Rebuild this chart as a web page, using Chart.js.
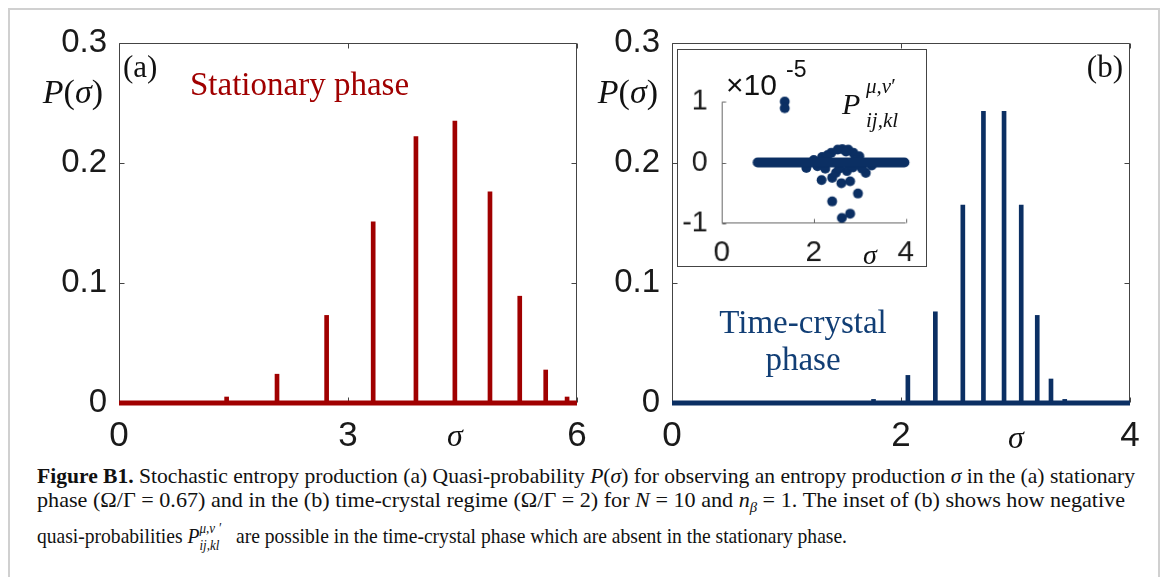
<!DOCTYPE html>
<html><head><meta charset="utf-8">
<script src="https://cdn.jsdelivr.net/npm/chart.js@4"></script>
<style>
html,body{margin:0;padding:0;background:#fff;width:1168px;height:577px;overflow:hidden;position:relative;font-family:"Liberation Sans",Arial,sans-serif;}
canvas{position:absolute;display:block;}
.t{position:absolute;white-space:nowrap;line-height:1;}
.serif{font-family:"Liberation Serif","Times New Roman",serif;}
#outer{position:absolute;left:8px;top:8px;width:1148px;height:620px;border:2px solid #d0d0d0;}
.cap{position:absolute;left:37px;white-space:nowrap;font-family:"Liberation Serif","Times New Roman",serif;font-size:21px;line-height:1;color:#111;transform-origin:0 50%;}
.stk{display:inline-block;position:relative;width:34px;height:10px;}
.stk .up{position:absolute;left:0;top:-11px;font-size:14px;font-style:italic;}
.stk .dn{position:absolute;left:0;top:6px;font-size:14px;font-style:italic;}
</style></head>
<body>
<div id="outer"></div>
<canvas id="cA" width="600" height="460" style="left:0;top:0;width:600px;height:460px;"></canvas>
<canvas id="cB" width="600" height="460" style="left:560px;top:0;width:600px;height:460px;"></canvas>
<canvas id="cI" width="250" height="218" style="left:677px;top:49px;width:250px;height:218px;background:#fff;border:1px solid #444;"></canvas>

<!-- panel (a) annotations -->
<div class="t serif" style="right:1065px;top:75px;font-size:34px;color:#111;"><i>P</i>(<i>σ</i>)</div>
<div class="t serif" style="left:123px;top:51px;font-size:31px;color:#111;">(a)</div>
<div class="t serif" style="left:190px;top:68px;font-size:33px;color:#a00000;">Stationary phase</div>
<div class="t serif" style="left:447px;top:419px;font-size:32px;color:#111;"><i>σ</i></div>
<!-- panel (b) annotations -->
<div class="t serif" style="right:510px;top:75px;font-size:34px;color:#111;"><i>P</i>(<i>σ</i>)</div>
<div class="t serif" style="right:45px;top:51px;font-size:31px;color:#111;">(b)</div>
<div class="t serif" style="left:693px;top:304px;width:220px;text-align:center;line-height:37px;font-size:33px;color:#113e75;white-space:normal;">Time-crystal<br>phase</div>
<div class="t serif" style="left:1008px;top:421px;font-size:32px;color:#111;"><i>σ</i></div>
<!-- inset annotations -->
<div class="t" style="left:726px;top:70px;font-size:30px;color:#111;">×10</div>
<div class="t" style="left:786px;top:58px;font-size:23px;color:#111;">-5</div>
<div class="t serif" style="left:842px;top:89px;font-size:30px;color:#111;"><i>P</i></div>
<div class="t serif" style="left:866px;top:76px;font-size:21px;color:#111;"><i>μ,ν</i>′</div>
<div class="t serif" style="left:866px;top:110px;font-size:21px;color:#111;"><i>ij,kl</i></div>
<div class="t serif" style="left:863px;top:241px;font-size:28px;color:#111;"><i>σ</i></div>

<!-- caption -->
<div class="cap" id="l1" data-w="1098" style="top:466px;"><b>Figure B1.</b> Stochastic entropy production (a) Quasi-probability <i>P</i>(<i>σ</i>) for observing an entropy production <i>σ</i> in the (a) stationary</div>
<div class="cap" id="l2" data-w="1088" style="top:490px;">phase (Ω/Γ = 0.67) and in the (b) time-crystal regime (Ω/Γ = 2) for <i>N</i> = 10 and <i>n</i><sub style="font-size:14px;"><i>β</i></sub> = 1. The inset of (b) shows how negative</div>
<div class="cap" id="l3" data-w="810" style="top:526px;">quasi-probabilities <i>P</i><span class="stk"><span class="up">μ,ν&nbsp;′</span><span class="dn">ij,kl</span></span> are possible in the time-crystal phase which are absent in the stationary phase.</div>

<script>
// ---------- data ----------
const sigmaA = [0.73, 1.41, 2.07, 2.72, 3.33, 3.89, 4.40, 4.86, 5.25, 5.59, 5.87];
const probA  = [0.001, 0.005, 0.024, 0.073, 0.151, 0.222, 0.235, 0.176, 0.089, 0.0275, 0.005];
const rangeA = [0, 6];
const xTicksStepA = 3;

const sigmaB = [1.76, 2.06, 2.30, 2.54, 2.72, 2.90, 3.05, 3.19, 3.31, 3.43];
const probB  = [0.003, 0.023, 0.076, 0.165, 0.243, 0.243, 0.165, 0.073, 0.020, 0.003];
const rangeB = [0, 4];
const xTicksStepB = 2;

const yRange = [0, 0.3];
const yStep = 0.1;

// inset: quasi-probabilities (units of 1e-5)
const insetZeroBand = [0.78, 3.97];          // sigma extent of the dense run of zero values
const insetSigma = [1.37, 1.37, 2.17, 2.40, 2.60, 2.79, 2.96, 2.40, 2.61, 2.79,
                    2.62, 2.38, 2.18, 2.86, 2.99, 1.84, 3.13, 2.08, 2.48, 2.72,
                    3.26, 2.52, 2.75, 2.30, 2.70, 2.90, 2.00, 3.05, 2.55, 2.25, 2.85];
const insetVal   = [1.00, 0.89, -0.29, -0.25, -0.34, -0.31, -0.51, -0.64, -0.91, -0.84,
                    0.22, 0.16, 0.09, 0.16, 0.10, -0.09, -0.17, -0.06, -0.17, -0.14,
                    -0.05, 0.21, 0.21, 0.12, 0.18, 0.05, 0.04, -0.10, -0.10, -0.10, -0.08];
const insetX = [0, 4], insetY = [-1, 1];

const RED = '#a00000', BLUE = '#0b2f63';

// ---------- plugin: matlab-like frame with inward ticks ----------
const framePlugin = {
  id: 'frame',
  beforeDatasetsDraw(chart, args, o) {
    const ctx = chart.ctx, a = chart.chartArea, xs = chart.scales.x, ys = chart.scales.y;
    ctx.save();
    ctx.strokeStyle = o.color; ctx.lineWidth = 1;
    const L = Math.round(a.left) + 0.5, R = Math.round(a.right) - 0.5, T = Math.round(a.top) + 0.5, B = Math.round(a.bottom) - 0.5;
    ctx.beginPath();
    ctx.moveTo(L, T); ctx.lineTo(L, B); ctx.lineTo(R, B);
    if (o.box) { ctx.lineTo(R, T); ctx.lineTo(L, T); }
    const tl = o.tick;
    xs.ticks.forEach(t => {
      const px = Math.round(xs.getPixelForValue(t.value)) + 0.5;
      ctx.moveTo(px, B); ctx.lineTo(px, B - tl);
      if (o.box) { ctx.moveTo(px, T); ctx.lineTo(px, T + tl); }
    });
    ys.ticks.forEach(t => {
      const py = Math.round(ys.getPixelForValue(t.value)) + 0.5;
      ctx.moveTo(L, py); ctx.lineTo(L + tl, py);
      if (o.box) { ctx.moveTo(R, py); ctx.lineTo(R - tl, py); }
    });
    ctx.stroke();
    ctx.restore();
  }
};

const tickFont = (s) => ({ family: '"Liberation Sans", Arial, sans-serif', size: s });

function mainChart(id, sig, prob, range, step, color, yW, rightPad, yPad) {
  return new Chart(document.getElementById(id), {
    type: 'bar',
    data: {
      datasets: [
        { type: 'line', data: range.map(v => ({ x: v, y: 0 })), borderColor: color, borderWidth: 5,
          pointRadius: 0, clip: false, order: 1 },
        { type: 'bar', data: sig.map((s, i) => ({ x: s, y: prob[i] })), backgroundColor: color,
          barThickness: 4, grouped: false, clip: false, order: 2 }
      ]
    },
    options: {
      responsive: false, animation: false, devicePixelRatio: 1,
      layout: { padding: { left: 0, top: 43, right: rightPad, bottom: 0 } },
      plugins: { legend: { display: false }, tooltip: { enabled: false },
                 frame: { color: '#444', box: true, tick: 5 } },
      scales: {
        x: { type: 'linear', min: range[0], max: range[1], offset: false,
             grid: { display: false, offset: false, drawTicks: false }, border: { display: false },
             ticks: { stepSize: step, font: tickFont(35), color: '#1a1a1a', padding: 12, maxRotation: 0 },
             afterFit(s) { s.height = 57; } },
        y: { min: yRange[0], max: yRange[1],
             grid: { display: false, drawTicks: false }, border: { display: false },
             ticks: { stepSize: yStep, font: tickFont(33), color: '#1a1a1a', padding: yPad },
             afterFit(s) { s.width = yW; } }
      }
    },
    plugins: [framePlugin]
  });
}

mainChart('cA', sigmaA, probA, rangeA, xTicksStepA, RED, 119, 23, 12);
mainChart('cB', sigmaB, probB, rangeB, xTicksStepB, BLUE, 112, 30, 12);

new Chart(document.getElementById('cI'), {
  type: 'scatter',
  data: {
    datasets: [
      { data: insetZeroBand.map(s => ({ x: s, y: 0 })), showLine: true, borderColor: BLUE, borderWidth: 10,
        borderCapStyle: 'round', pointRadius: 0, clip: false },
      { data: insetSigma.map((s, i) => ({ x: s, y: insetVal[i] })), backgroundColor: BLUE, borderColor: BLUE,
        pointRadius: 5, borderWidth: 0, clip: false }
    ]
  },
  options: {
    responsive: false, animation: false, devicePixelRatio: 1,
    layout: { padding: { left: 0, top: 52, right: 8, bottom: 0 } },
    plugins: { legend: { display: false }, tooltip: { enabled: false },
               frame: { color: '#666', box: false, tick: 4 } },
    scales: {
      x: { type: 'linear', min: insetX[0], max: insetX[1],
           grid: { display: false, drawTicks: false }, border: { display: false },
           ticks: { stepSize: 2, font: tickFont(30), color: '#1a1a1a', padding: 12, maxRotation: 0 },
           afterFit(s) { s.height = 43; } },
      y: { min: insetY[0], max: insetY[1],
           grid: { display: false, drawTicks: false }, border: { display: false },
           ticks: { stepSize: 1, font: tickFont(29), color: '#1a1a1a', padding: 14 },
           afterFit(s) { s.width = 44; } }
    }
  },
  plugins: [framePlugin]
});

// fit caption lines to the reference widths
document.querySelectorAll('.cap').forEach(el => {
  const w = el.getBoundingClientRect().width;
  const target = +el.dataset.w;
  el.style.transform = 'scaleX(' + (target / w) + ')';
});
</script>
</body></html>
